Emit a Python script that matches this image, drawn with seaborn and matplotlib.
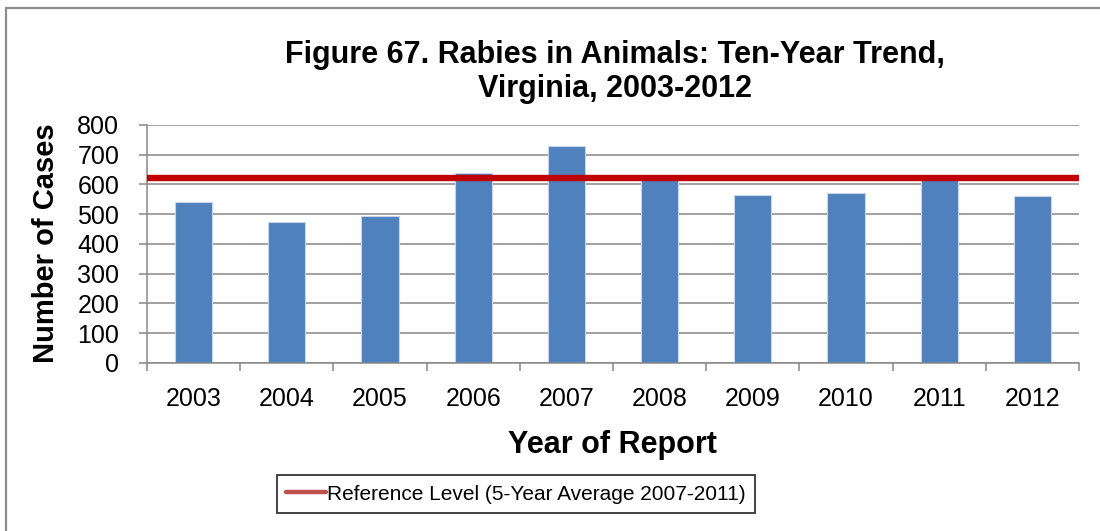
import pandas as pd
import matplotlib.pyplot as plt
import seaborn as sns
from matplotlib.lines import Line2D

# values
years = ["2003", "2004", "2005", "2006", "2007", "2008", "2009", "2010", "2011", "2012"]
cases = [542, 473, 495, 637, 731, 617, 566, 573, 621, 561]
reference_level = 621
y_ticks = [0, 100, 200, 300, 400, 500, 600, 700, 800]

title_lines = ["Figure 67. Rabies in Animals: Ten-Year Trend,", "Virginia, 2003-2012"]
legend_label = "Reference Level (5-Year Average 2007-2011)"

BAR_BLUE = "#4F81BD"
LINE_RED = "#C00000"
LEGEND_RED = "#C0504D"
AXIS_GREY = "#878787"


def make_chart():
    sns.set_theme(style="white")
    plt.rcParams["font.family"] = ["Liberation Sans", "DejaVu Sans"]
    plt.rcParams["text.color"] = "black"
    plt.rcParams["xtick.labelcolor"] = "black"
    plt.rcParams["ytick.labelcolor"] = "black"

    df = pd.DataFrame({"year": years, "cases": cases})

    fig = plt.figure(figsize=(11, 5.31), dpi=100)
    ax = fig.add_axes([0.1336, 0.3164, 0.8473, 0.4482])

    sns.barplot(data=df, x="year", y="cases", order=years, color=BAR_BLUE,
                saturation=1, width=0.4, edgecolor="#C6D6EA", linewidth=0.8,
                ax=ax, zorder=2)
    ax.axhline(reference_level, color=LINE_RED, linewidth=4.6, zorder=3)

    ax.set_xlim(-0.5, len(years) - 0.5)
    ax.set_ylim(0, 800)
    ax.set_yticks(y_ticks)
    ax.yaxis.grid(True, color=AXIS_GREY, linewidth=1.1, zorder=0)
    ax.set_axisbelow(True)

    # tick marks sit between the categories, labels under the centres
    ax.set_xticks([i - 0.5 for i in range(len(years) + 1)], minor=True)
    ax.tick_params(axis="x", which="major", length=0, pad=17, labelsize=18)
    ax.tick_params(axis="x", which="minor", length=6, width=1.1,
                   color=AXIS_GREY, direction="out", bottom=True)
    ax.tick_params(axis="y", length=6, width=1.1, color=AXIS_GREY,
                   direction="out", left=True, pad=14, labelsize=18)

    for side in ["top", "right"]:
        ax.spines[side].set_visible(False)
    for side in ["left", "bottom"]:
        ax.spines[side].set_color(AXIS_GREY)
        ax.spines[side].set_linewidth(1.1)

    ax.set_xlabel("")
    ax.set_ylabel("")

    fig.text(0.559, 1 - 63 / 531, title_lines[0], ha="center", va="baseline",
             fontsize=22, fontweight="bold")
    fig.text(0.559, 1 - 97 / 531, title_lines[1], ha="center", va="baseline",
             fontsize=22, fontweight="bold")
    fig.text(0.557, 1 - 453 / 531, "Year of Report", ha="center", va="baseline",
             fontsize=22, fontweight="bold")
    fig.text(46 / 1100, 1 - 243 / 531, "Number of Cases", ha="center", va="center",
             rotation=90, fontsize=21, fontweight="bold")

    handle = Line2D([0], [0], color=LEGEND_RED, linewidth=3.2)
    leg = fig.legend([handle], [legend_label], loc="center",
                     bbox_to_anchor=(0.469, 1 - 494 / 531), fontsize=15,
                     frameon=True, fancybox=False, handlelength=1.9,
                     handletextpad=0.05, borderpad=0.45, borderaxespad=0)
    leg.get_frame().set_edgecolor("black")
    leg.get_frame().set_linewidth(1.3)

    # outer chart border (only left and top edges fall inside the picture)
    fig.add_artist(Line2D([0.0055, 0.0055], [0, 0.985], color="#8C8C8C",
                          linewidth=1.6, transform=fig.transFigure))
    fig.add_artist(Line2D([0.0055, 1.0], [0.985, 0.985], color="#8C8C8C",
                          linewidth=1.6, transform=fig.transFigure))

    fig.savefig("out.png", dpi=100)
    plt.close(fig)


if __name__ == "__main__":
    make_chart()
